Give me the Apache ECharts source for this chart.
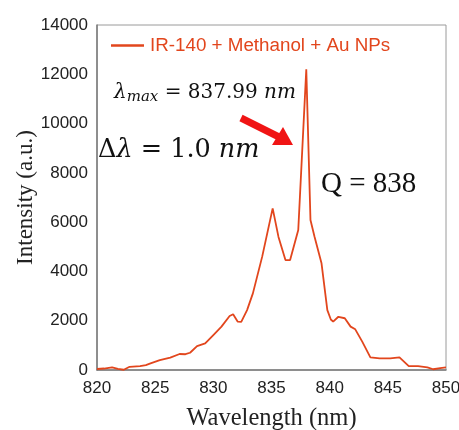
<!DOCTYPE html>
<html>
<head>
<meta charset="utf-8">
<script src="https://cdn.jsdelivr.net/npm/echarts@6/dist/echarts.min.js"></script>
<style>
  html, body { margin: 0; padding: 0; background: #fff; }
  #chart { width: 459px; height: 430px; }
</style>
</head>
<body>
<div id="chart"></div>
<script>
// Emission spectrum: IR-140 in methanol with Au nanoparticles
const seriesName = 'IR-140 + Methanol + Au NPs';
const wavelengths = [
  820, 820.6, 821.3, 821.8, 822.3, 822.8, 823.7, 824.2, 824.6, 825.4,
  826.3, 827.1, 827.6, 828, 828.6, 829.3, 830, 830.7, 831.4, 831.7,
  832.1, 832.4, 832.9, 833.4, 834.2, 835.1, 835.6, 836.2, 836.6, 837.3,
  837.99, 838.35, 838.7, 839.3, 839.8, 840.1, 840.3, 840.75, 841.3, 841.8,
  842.2, 842.8, 843.5, 844.3, 845.2, 846, 846.8, 847.6, 848.4, 848.9,
  849.5, 850
];
const intensities = [
  40, 60, 110, 50, 10, 130, 160, 200, 270, 400,
  500, 650, 640, 700, 970, 1080, 1420, 1760, 2190, 2260,
  1960, 1950, 2430, 3110, 4600, 6560, 5400, 4460, 4460, 5680,
  12200, 6090, 5410, 4330, 2430, 2050, 1960, 2160, 2100, 1760,
  1650, 1150, 515, 475, 475, 515, 160, 160, 110, 30,
  80, 110
];
const xTicks = { min: 820, max: 850, step: 5 };
const yTicks = { min: 0, max: 14000, step: 2000 };

const lineColor = '#e2461d';
const serif = '"Liberation Serif", "DejaVu Serif", serif';
const mathFont = '"DejaVu Serif", "Liberation Serif", serif';
const sans = '"Liberation Sans", Arial, sans-serif';

const points = wavelengths.map((w, i) => [w, intensities[i]]);

const chart = echarts.init(document.getElementById('chart'), null, { renderer: 'canvas' });
chart.setOption({
  animation: false,
  backgroundColor: '#ffffff',
  grid: {
    left: 97, right: 13, top: 25, bottom: 60,
    outerBoundsMode: 'none',
    containLabel: false,
    show: true, borderColor: '#9a9a9a', borderWidth: 1
  },
  legend: {
    data: [{ name: seriesName, icon: 'rect' }],
    left: 111, top: 36, padding: 0,
    itemWidth: 33, itemHeight: 2.5, itemGap: 4,
    textStyle: { color: lineColor, fontFamily: sans, fontSize: 18.8, padding: [0, 0, 0, 1] }
  },
  xAxis: {
    type: 'value',
    min: xTicks.min, max: xTicks.max, interval: xTicks.step,
    name: 'Wavelength (nm)',
    nameLocation: 'middle', nameGap: 36,
    nameMoveOverlap: false,
    nameTextStyle: { fontFamily: serif, fontSize: 24.5, color: '#222' },
    axisLine: { lineStyle: { color: '#7a7a7a', width: 1.5 } },
    axisTick: { show: false },
    splitLine: { show: false },
    axisLabel: { fontFamily: sans, fontSize: 17, color: '#222', margin: 10 }
  },
  yAxis: {
    type: 'value',
    min: yTicks.min, max: yTicks.max, interval: yTicks.step,
    name: 'Intensity (a.u.)',
    nameLocation: 'middle', nameGap: 60,
    nameMoveOverlap: false,
    nameTextStyle: { fontFamily: serif, fontSize: 23, color: '#222' },
    axisLine: { show: true, lineStyle: { color: '#7a7a7a', width: 1.5 } },
    axisTick: { show: false },
    splitLine: { show: false },
    axisLabel: {
      fontFamily: sans, fontSize: 17, color: '#222', margin: 9,
      formatter: (v) => String(v)
    }
  },
  series: [{
    name: seriesName,
    type: 'line',
    data: points,
    symbol: 'none',
    showSymbol: false,
    lineStyle: { color: lineColor, width: 1.8 },
    itemStyle: { color: lineColor },
    z: 3
  }],
  graphic: [
    {
      type: 'text', left: 114, top: 83, z: 10,
      style: {
        text: '{i|λ}{s|max}{n| = 837.99 }{i|nm}',
        rich: {
          i: { fontFamily: mathFont, fontStyle: 'italic', fontSize: 20, fill: '#111' },
          s: { fontFamily: mathFont, fontStyle: 'italic', fontSize: 15, fill: '#111', verticalAlign: 'bottom', padding: [8, 0, 0, 0] },
          n: { fontFamily: mathFont, fontSize: 20, fill: '#111' }
        }
      }
    },
    {
      type: 'text', left: 98, top: 137, z: 10,
      style: {
        text: '{n|Δ}{i|λ}{n| = 1.0 }{i|nm}',
        rich: {
          i: { fontFamily: mathFont, fontStyle: 'italic', fontSize: 25.5, fill: '#111' },
          n: { fontFamily: mathFont, fontSize: 25.5, fill: '#111' }
        }
      }
    },
    {
      type: 'text', left: 321, top: 170, z: 10,
      style: { text: 'Q = 838', fontFamily: serif, fontSize: 29, fill: '#111' }
    },
    {
      type: 'line', z: 10,
      shape: { x1: 241, y1: 118, x2: 281, y2: 138 },
      style: { stroke: '#f01414', lineWidth: 7 }
    },
    {
      type: 'polygon', z: 10,
      shape: { points: [[293, 145], [272, 145], [283, 127]] },
      style: { fill: '#f01414' }
    }
  ]
});
</script>
</body>
</html>
